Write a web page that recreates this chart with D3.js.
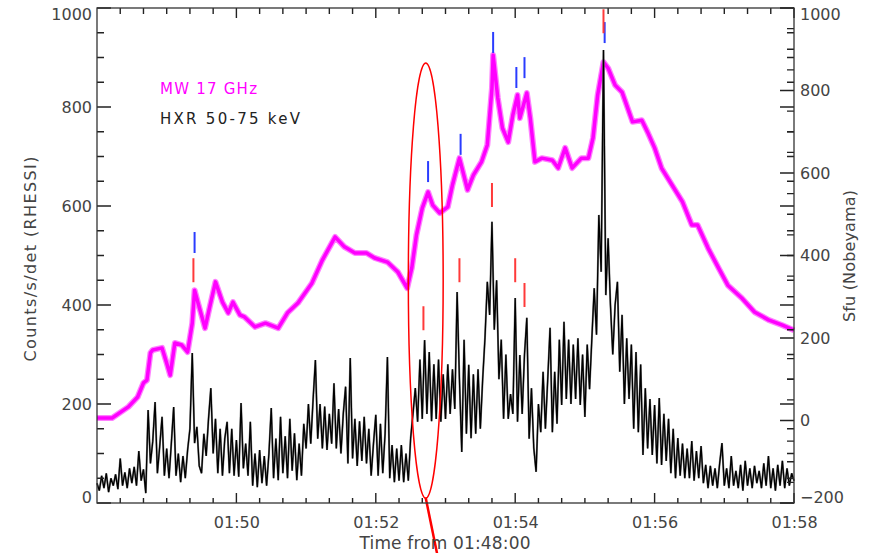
<!DOCTYPE html>
<html>
<head>
<meta charset="utf-8">
<script src="https://cdn.jsdelivr.net/npm/d3@7"></script>
<style>
  body { margin: 0; background: #fff; }
  svg { display: block; font-family: "DejaVu Sans", sans-serif; }
  .axis text { fill: #444; font-size: 16px; font-family: "DejaVu Sans", sans-serif; }
</style>
</head>
<body>
<svg id="chart" width="880" height="553"></svg>
<script>
// MW 17 GHz (Nobeyama), seconds from 01:48:00 and flux in sfu
const mwTime = [0, 13, 27, 35, 40, 43, 46, 48, 56, 60, 63, 67, 73, 78, 82, 84, 87, 93, 97, 102,
  108, 113, 117, 123, 127, 136, 145, 156, 164, 173, 185, 194, 205, 213, 222, 232, 239, 250, 259, 267,
  271, 275, 280, 285, 289, 295, 302, 306, 312, 319, 324, 331, 336, 340, 341, 345, 349, 354, 358, 362,
  364, 370, 373, 377, 383, 392, 397, 403, 409, 417, 423, 427, 431, 436, 440, 446, 452, 461, 469, 474,
  480, 486, 495, 504, 512, 517, 526, 535, 543, 555, 566, 578, 590, 600]
const mwSfu = [6, 6, 33, 57, 91, 98, 164, 171, 176, 139, 110, 188, 183, 166, 236, 316, 285, 224, 275, 336,
  287, 261, 287, 256, 251, 227, 236, 224, 261, 285, 333, 389, 445, 421, 406, 406, 394, 384, 360, 321,
  370, 450, 515, 554, 522, 503, 518, 571, 636, 559, 595, 627, 668, 806, 886, 782, 709, 675, 741, 789,
  733, 794, 733, 627, 636, 631, 612, 661, 612, 636, 636, 685, 789, 869, 854, 813, 796, 724, 728, 699,
  661, 612, 571, 530, 474, 474, 418, 370, 328, 297, 263, 244, 231, 219]

// HXR 50-75 keV (RHESSI), counts/s/det sampled every 2 s from 01:48:00
const hxrStep = 2
const hxrCounts = [
  40, 25, 55, 30, 60, 22, 50, 35, 58, 28, 90, 35, 62, 30, 70,
  40, 73, 35, 105, 45, 68, 20, 188, 80, 125, 204, 60, 115, 174, 55,
  110, 50, 121, 194, 55, 100, 42, 95, 50, 107, 150, 303, 121, 154, 75,
  60, 140, 95, 170, 232, 100, 170, 60, 150, 55, 130, 164, 60, 150, 55,
  127, 53, 202, 70, 120, 55, 164, 35, 100, 32, 107, 40, 95, 35, 100,
  192, 50, 130, 46, 174, 60, 135, 50, 170, 65, 141, 46, 120, 55, 160,
  110, 200, 120, 208, 289, 130, 200, 110, 195, 107, 180, 120, 242, 110, 190,
  100, 180, 235, 80, 293, 90, 170, 75, 165, 85, 174, 80, 150, 55, 120,
  178, 55, 160, 60, 140, 295, 50, 117, 42, 110, 45, 117, 42, 100, 45,
  131, 180, 232, 164, 290, 170, 329, 180, 305, 165, 280, 170, 290, 164, 260,
  170, 280, 180, 270, 190, 426, 250, 103, 330, 140, 279, 131, 260, 140, 270,
  150, 250, 334, 447, 380, 568, 350, 450, 250, 330, 170, 300, 170, 220, 180,
  414, 164, 299, 180, 300, 374, 130, 232, 111, 63, 200, 143, 265, 150, 250,
  354, 143, 265, 160, 330, 198, 366, 210, 330, 200, 320, 210, 333, 198, 300,
  174, 320, 230, 333, 434, 340, 582, 467, 915, 420, 535, 400, 300, 400, 447,
  265, 380, 200, 333, 210, 320, 150, 305, 143, 280, 97, 232, 110, 210, 97,
  198, 80, 212, 77, 180, 85, 170, 60, 150, 50, 131, 55, 120, 50, 110,
  50, 125, 45, 105, 50, 115, 40, 77, 30, 75, 35, 70, 30, 80, 121,
  35, 70, 30, 95, 35, 65, 30, 77, 25, 85, 35, 70, 30, 75, 40,
  65, 30, 80, 35, 95, 30, 70, 25, 77, 35, 85, 30, 70, 35, 60, 45]

// peak markers: blue on the MW curve (sfu), red on the HXR curve (counts)
const blueTime = [84, 285, 313, 341, 361, 368, 437]
const blueSfu = [406, 578, 644, 891, 806, 830, 915]
const redTime = [83, 281, 312, 340, 360, 368, 436]
const redCounts = [446, 349, 446, 598, 446, 396, 949]

// highlighted interval (ellipse), time and counts extent
const ellipseTime = [268, 298]
const ellipseCounts = [10, 889]

const leftTicks = [0, 200, 400, 600, 800, 1000]
const rightTicks = [-200, 0, 200, 400, 600, 800, 1000]
const timeTicks = [120, 240, 360, 480, 600]
const timeLabels = ["01:50", "01:52", "01:54", "01:56", "01:58"]

const svg = d3.select('#chart')
const margin = { top: 8, bottom: 50, left: 97, right: 86 }
const width = 880, height = 553
const left0 = margin.left, right0 = width - margin.right
const bottom0 = height - margin.bottom, top0 = margin.top

const x = d3.scaleLinear().domain([0, 600]).range([left0, right0])
const yL = d3.scaleLinear().domain([0, 1000]).range([bottom0, top0])
const yR = d3.scaleLinear().domain([-200, 1000]).range([bottom0, top0])

const minorTime = d3.range(0, 601, 20).filter(t => t % 120 != 0)
const minorLeft = d3.range(0, 1001, 50).filter(v => v % 200 != 0)
const minorRight = d3.range(-200, 1001, 50).filter(v => v % 200 != 0)

// MW curve, fuzzy band then core
const mwLine = d3.line().x((d, i) => x(mwTime[i])).y(d => yR(d))
svg.append('path').datum(mwSfu).attr('d', mwLine)
  .attr('fill', 'none').attr('stroke', '#ff80ff').attr('stroke-width', 6).attr('stroke-linejoin', 'round')
svg.append('path').datum(mwSfu).attr('d', mwLine)
  .attr('fill', 'none').attr('stroke', '#ff00ff').attr('stroke-width', 3.5).attr('stroke-linejoin', 'round')

// HXR curve
const hxrLine = d3.line().x((d, i) => x(i * hxrStep)).y(d => yL(d))
svg.append('path').datum(hxrCounts).attr('d', hxrLine)
  .attr('fill', 'none').attr('stroke', '#888').attr('stroke-width', 2)
svg.append('path').datum(hxrCounts).attr('d', hxrLine)
  .attr('fill', 'none').attr('stroke', '#000').attr('stroke-width', 1.3)

// markers
svg.selectAll('.blueMark').data(blueTime).join('line')
  .attr('x1', d => x(d)).attr('x2', d => x(d))
  .attr('y1', (d, i) => yR(blueSfu[i])).attr('y2', (d, i) => yR(blueSfu[i]) - 21)
  .attr('stroke', '#2a3cff').attr('stroke-width', 2)
svg.selectAll('.redMark').data(redTime).join('line')
  .attr('x1', d => x(d)).attr('x2', d => x(d))
  .attr('y1', (d, i) => yL(redCounts[i])).attr('y2', (d, i) => yL(redCounts[i]) - 24)
  .attr('stroke', '#ff3a3a').attr('stroke-width', 2)

// ellipse around the onset and its pointer line
const ex = (x(ellipseTime[0]) + x(ellipseTime[1])) / 2
const ey = (yL(ellipseCounts[0]) + yL(ellipseCounts[1])) / 2
svg.append('ellipse')
  .attr('cx', ex).attr('cy', ey)
  .attr('rx', (x(ellipseTime[1]) - x(ellipseTime[0])) / 2)
  .attr('ry', (yL(ellipseCounts[0]) - yL(ellipseCounts[1])) / 2)
  .attr('fill', 'none').attr('stroke', '#ff0000').attr('stroke-width', 1.5)
svg.append('line')
  .attr('x1', ex).attr('y1', yL(ellipseCounts[0]))
  .attr('x2', x(293)).attr('y2', yL(-105))
  .attr('stroke', '#ff0000').attr('stroke-width', 2.5)

// inward tick marks on every side of the box, one path per set
function tickMarks(values, pos, len, side) {
  let d = ''
  values.forEach(v => {
    const p = pos(v)
    if (side == 'left') d += `M${left0},${p}h${len}`
    if (side == 'right') d += `M${right0},${p}h${-len}`
    if (side == 'bottom') d += `M${p},${bottom0}v${-len}`
    if (side == 'top') d += `M${p},${top0}v${len}`
  })
  svg.append('path').attr('d', d).attr('fill', 'none').attr('stroke', '#222').attr('stroke-width', 1.4)
}
tickMarks(timeTicks, x, 10, 'bottom')
tickMarks(minorTime, x, 5, 'bottom')
tickMarks(timeTicks, x, 10, 'top')
tickMarks(minorTime, x, 6, 'top')
tickMarks(leftTicks, yL, 14, 'left')
tickMarks(minorLeft, yL, 7, 'left')
tickMarks(rightTicks, yR, 14, 'right')
tickMarks(minorRight, yR, 7, 'right')
// mirrored ticks of the left scale on the right edge
tickMarks(leftTicks, yL, 14, 'right')
tickMarks(minorLeft, yL, 7, 'right')

// tick labels through d3 axes
svg.append('g').attr('class', 'axis')
  .attr('transform', `translate(0,${bottom0})`)
  .call(d3.axisBottom(x).tickValues(timeTicks).tickSize(0).tickPadding(14)
    .tickFormat((d, i) => timeLabels[i]))
const left = svg.append('g').attr('class', 'axis')
  .attr('transform', `translate(${left0},0)`)
  .call(d3.axisLeft(yL).tickValues(leftTicks).tickSize(0).tickPadding(5).tickFormat(d3.format('d')))
left.selectAll('text').attr('transform', d => d == 1000 ? 'translate(0,6)' : d == 0 ? 'translate(0,-6)' : null)
const right = svg.append('g').attr('class', 'axis')
  .attr('transform', `translate(${right0},0)`)
  .call(d3.axisRight(yR).tickValues(rightTicks).tickSize(0).tickPadding(6).tickFormat(d => d < 0 ? '\u2212' + (-d) : String(d)))
right.selectAll('text').attr('transform', d => d == 1000 ? 'translate(0,6)' : d == -200 ? 'translate(0,-6)' : null)
svg.selectAll('.axis .domain').remove()
svg.selectAll('.axis line').remove()

// plot box
svg.append('rect')
  .attr('x', left0).attr('y', top0)
  .attr('width', right0 - left0).attr('height', bottom0 - top0)
  .attr('fill', 'none').attr('stroke', '#333').attr('stroke-width', 1.3)

// legend
svg.append('text').attr('x', 160).attr('y', 94).text('MW 17 GHz')
  .attr('fill', '#ff00ff').attr('font-size', 15).attr('textLength', 97).attr('lengthAdjust', 'spacing')
svg.append('text').attr('x', 160).attr('y', 124).text('HXR 50-75 keV')
  .attr('fill', '#222').attr('font-size', 15).attr('textLength', 140).attr('lengthAdjust', 'spacing')

// axis titles
svg.append('text').attr('transform', 'translate(36,259) rotate(-90)')
  .attr('text-anchor', 'middle').attr('fill', '#444').attr('font-size', 16)
  .attr('textLength', 205).attr('lengthAdjust', 'spacing').text('Counts/s/det (RHESSI)')
svg.append('text').attr('transform', 'translate(855,256) rotate(-90)')
  .attr('text-anchor', 'middle').attr('fill', '#444').attr('font-size', 16)
  .attr('textLength', 132).attr('lengthAdjust', 'spacing').text('Sfu (Nobeyama)')
svg.append('text').attr('x', 445).attr('y', 549)
  .attr('text-anchor', 'middle').attr('fill', '#444').attr('font-size', 17)
  .attr('textLength', 171).attr('lengthAdjust', 'spacing').text('Time from 01:48:00')
</script>
</body>
</html>
